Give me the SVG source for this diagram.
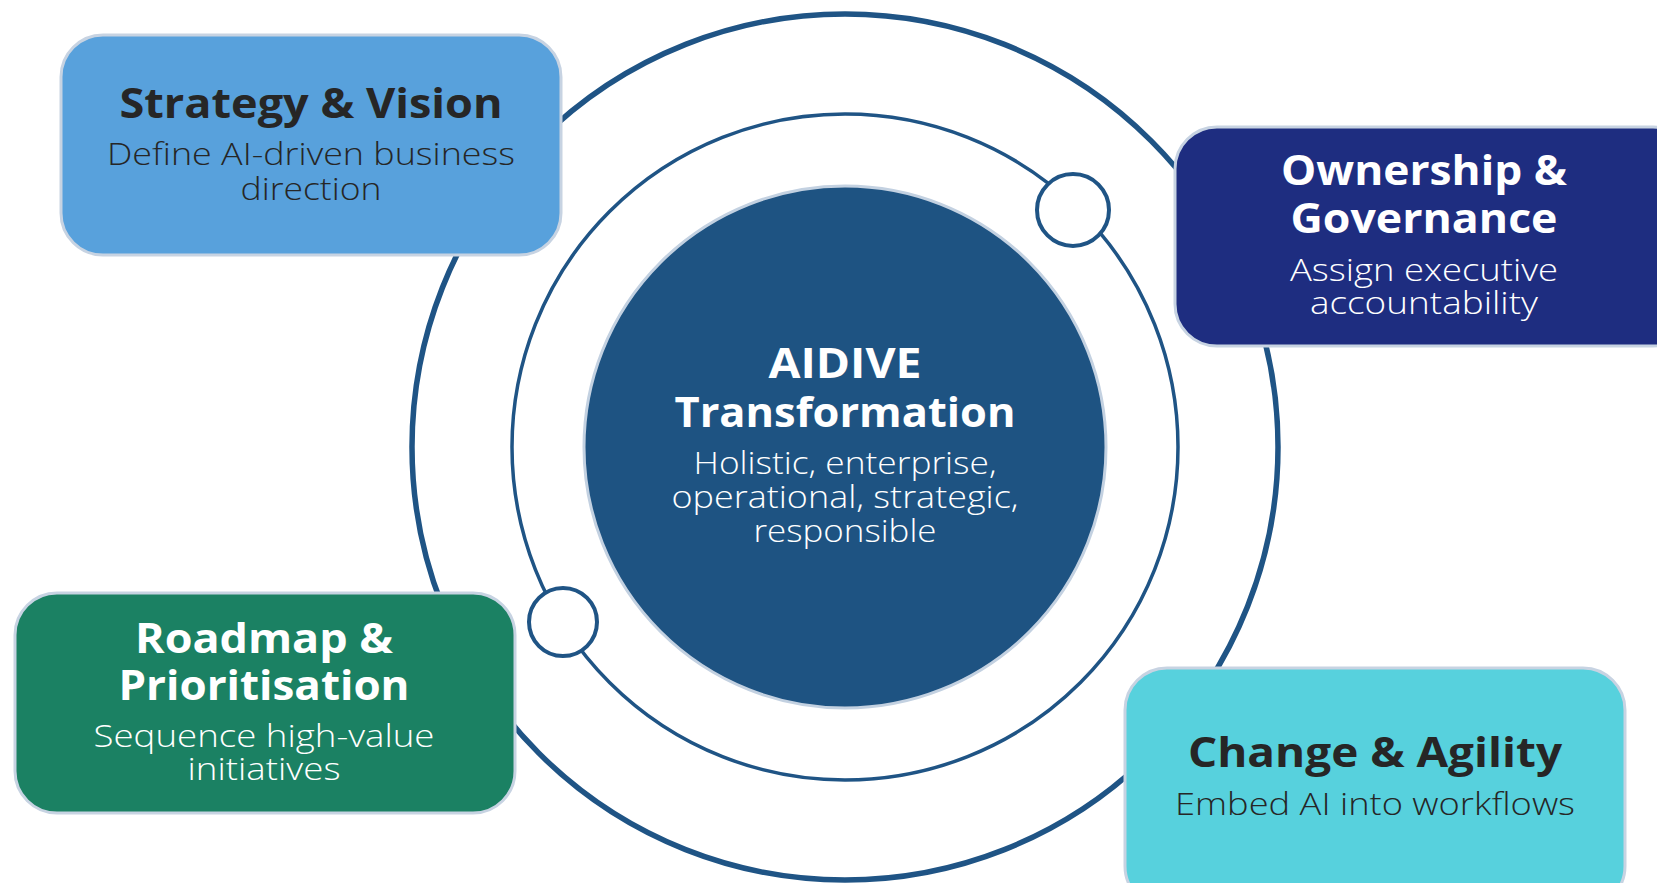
<svg xmlns="http://www.w3.org/2000/svg" width="1657" height="883" viewBox="0 0 1657 883">
<style>
.ring{fill:none;stroke:#1f5485}
.dot{fill:#ffffff;stroke:#1f5485;stroke-width:4}
.box{stroke:#c7d3e2;stroke-width:3}
.t{font-family:"Open Sans","Liberation Sans",sans-serif;font-weight:700;font-size:41px;text-anchor:middle}
.s{font-family:"Open Sans","Liberation Sans",sans-serif;font-weight:300;font-size:31px;text-anchor:middle}
.dark{fill:#262626}
.light{fill:#ffffff}
</style>
<rect width="1657" height="883" fill="#ffffff"/>
<g id="connectors">
<circle class="ring" cx="845" cy="447" r="433" stroke-width="5.5"/>
<circle class="ring" cx="845" cy="447" r="333" stroke-width="3.5"/>
</g>
<g id="center">
<circle cx="845" cy="447" r="261" fill="#1e5382" stroke="#c3d1e1" stroke-width="3"/>
<text class="t light" x="845" y="378" textLength="153" lengthAdjust="spacingAndGlyphs">AIDIVE</text>
<text class="t light" x="845" y="427" textLength="341" lengthAdjust="spacingAndGlyphs">Transformation</text>
<text class="s light" x="845" y="474" textLength="303" lengthAdjust="spacingAndGlyphs">Holistic, enterprise,</text>
<text class="s light" x="845" y="508" textLength="347" lengthAdjust="spacingAndGlyphs">operational, strategic,</text>
<text class="s light" x="845" y="542" textLength="183" lengthAdjust="spacingAndGlyphs">responsible</text>
</g>
<g id="dot1"><circle class="dot" cx="1073" cy="210" r="36"/></g>
<g id="dot2"><circle class="dot" cx="563" cy="622" r="34"/></g>
<g id="strategy">
<rect class="box" x="61" y="35" width="500" height="220" rx="42" fill="#58a1dc"/>
<text class="t dark" x="311" y="118" textLength="383" lengthAdjust="spacingAndGlyphs">Strategy &amp; Vision</text>
<text class="s dark" x="311" y="165" textLength="408" lengthAdjust="spacingAndGlyphs">Define AI-driven business</text>
<text class="s dark" x="311" y="200" textLength="141" lengthAdjust="spacingAndGlyphs">direction</text>
</g>
<g id="ownership">
<rect class="box" x="1175" y="127" width="520" height="219" rx="42" fill="#1e2d80"/>
<text class="t light" x="1424" y="185" textLength="286" lengthAdjust="spacingAndGlyphs">Ownership &amp;</text>
<text class="t light" x="1424" y="233" textLength="267" lengthAdjust="spacingAndGlyphs">Governance</text>
<text class="s light" x="1424" y="281" textLength="268" lengthAdjust="spacingAndGlyphs">Assign executive</text>
<text class="s light" x="1424" y="314" textLength="228" lengthAdjust="spacingAndGlyphs">accountability</text>
</g>
<g id="roadmap">
<rect class="box" x="15" y="593" width="500" height="220" rx="42" fill="#1b8163"/>
<text class="t light" x="264" y="653" textLength="258" lengthAdjust="spacingAndGlyphs">Roadmap &amp;</text>
<text class="t light" x="264" y="700" textLength="291" lengthAdjust="spacingAndGlyphs">Prioritisation</text>
<text class="s light" x="264" y="747" textLength="341" lengthAdjust="spacingAndGlyphs">Sequence high-value</text>
<text class="s light" x="264" y="780" textLength="153" lengthAdjust="spacingAndGlyphs">initiatives</text>
</g>
<g id="change">
<rect class="box" x="1125" y="668" width="500" height="240" rx="42" fill="#57d1dd"/>
<text class="t dark" x="1375" y="767" textLength="374" lengthAdjust="spacingAndGlyphs">Change &amp; Agility</text>
<text class="s dark" x="1375" y="815" textLength="400" lengthAdjust="spacingAndGlyphs">Embed AI into workflows</text>
</g>
</svg>
